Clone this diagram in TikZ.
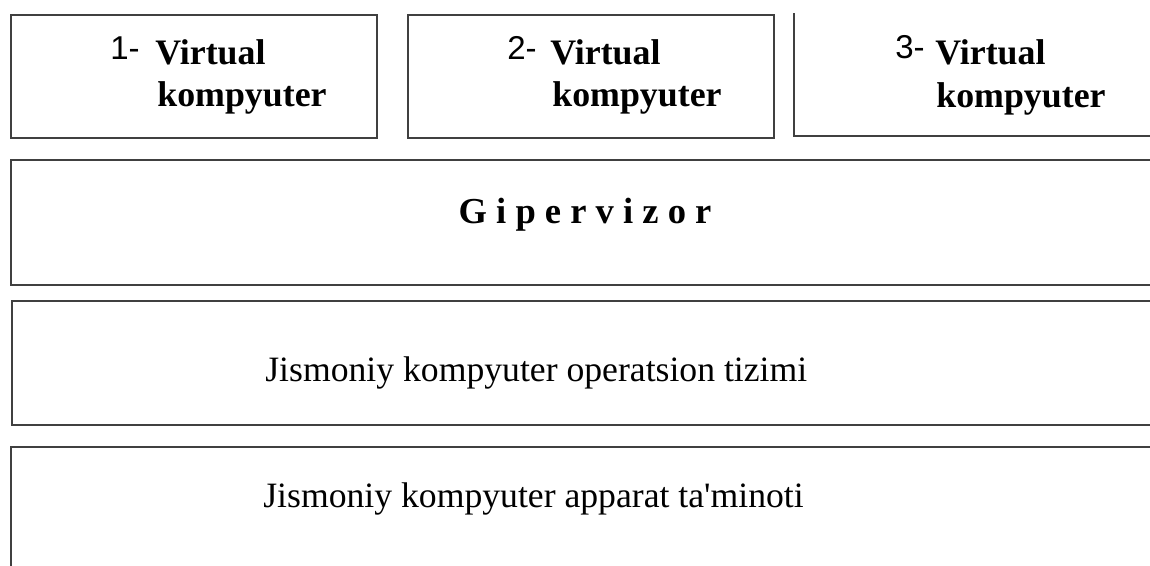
\documentclass[tikz,border=0pt]{standalone}
\usepackage{fontspec}
\setmainfont{Liberation Serif}
\setsansfont{Liberation Sans}
\begin{document}
\begin{tikzpicture}[x=0.02cm, y=-0.02cm,
    box/.style={draw=black!75, line width=1.1pt, inner sep=0pt},
    vmbox/.style={box, minimum width=7.32cm, minimum height=2.46cm},
    layer/.style={box, minimum width=23.18cm},
    num/.style={font=\sffamily\fontsize{18.8}{22}\selectfont, inner sep=0pt, anchor=base west},
    vmtxt/.style={font=\bfseries\fontsize{20.4}{23.2}\selectfont, inner sep=0pt, anchor=base west},
    txt/.style={font=\fontsize{20.3}{24}\selectfont, inner sep=0pt, anchor=base west}]
  \useasboundingbox (0,0) rectangle (1150,565);
  \clip (0,0) rectangle (1150,565);
  % virtual machines
  \node[vmbox] (vm1) at (194,76.5) {};
  \node[vmbox] (vm2) at (591,76.5) {};
  \node[vmbox, draw=none, minimum height=2.42cm] (vm3) at (978,74.5) {};
  \draw[box] (vm3.north west) -- (vm3.south west) -- (vm3.south east);
  % layers below
  \node[layer, minimum height=2.5cm] (hyp) at (590.5,222.5) {};
  \node[layer, minimum height=2.48cm] (os) at (591,363) {};
  \node[layer, minimum height=2.66cm] (hw) at (590.5,513.5) {};
  % labels
  \node[num] (n1) at (110,59) {1-};
  \node[vmtxt] (t1a) at (155,64) {Virtual};
  \node[vmtxt] (t1b) at (157,106) {kompyuter};
  \node[num] (n2) at (507,59) {2-};
  \node[vmtxt] (t2a) at (550,64) {Virtual};
  \node[vmtxt] (t2b) at (552,106) {kompyuter};
  \node[num] (n3) at (895,58) {3-};
  \node[vmtxt] (t3a) at (935,64) {Virtual};
  \node[vmtxt] (t3b) at (936,107) {kompyuter};
  \node[txt, font=\bfseries\fontsize{20.8}{24}\selectfont, anchor=base] (hyplbl) at (585,223) {G i p e r v i z o r};
  \node[txt] (oslbl) at (265,381.5) {Jismoniy kompyuter operatsion tizimi};
  \node[txt] (hwlbl) at (263,507) {Jismoniy kompyuter apparat ta\textquotesingle minoti};
\end{tikzpicture}
\end{document}
